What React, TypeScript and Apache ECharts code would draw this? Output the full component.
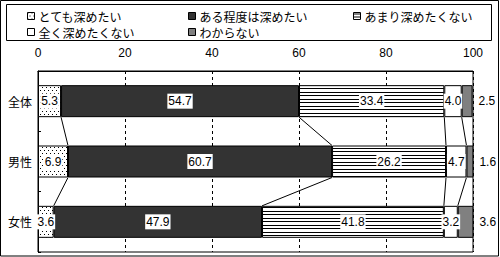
import React, { useEffect, useRef } from "react";
import * as echarts from "echarts";

const categories = ["全体", "男性", "女性"];
const seriesNames = ["とても深めたい", "ある程度は深めたい", "あまり深めたくない", "全く深めたくない", "わからない"];
const veryMuch = [5.3, 6.9, 3.6];
const somewhat = [54.7, 60.7, 47.9];
const notMuch = [33.4, 26.2, 41.8];
const notAtAll = [4.0, 4.7, 3.2];
const unknown = [2.5, 1.6, 3.6];
const xTicks = [0, 20, 40, 60, 80, 100];

const valueSets = [veryMuch, somewhat, notMuch, notAtAll, unknown];

function makeDots() {
  const c = document.createElement("canvas");
  c.width = 4;
  c.height = 6;
  const g = c.getContext("2d")!;
  g.fillStyle = "#fff";
  g.fillRect(0, 0, 4, 6);
  g.fillStyle = "#000";
  g.fillRect(0, 0, 1, 1);
  g.fillRect(2, 3, 1, 1);
  return c;
}
function makeStripes() {
  const c = document.createElement("canvas");
  c.width = 4;
  c.height = 7;
  const g = c.getContext("2d")!;
  g.fillStyle = "#fff";
  g.fillRect(0, 0, 4, 7);
  g.fillStyle = "#000";
  g.fillRect(0, 1, 4, 1);
  g.fillRect(0, 4, 4, 1);
  return c;
}

export default function App() {
  const ref = useRef<HTMLDivElement>(null);
  useEffect(() => {
    document.body.style.margin = "0";
    const chart = echarts.init(ref.current!, null, { renderer: "svg" });
    const dots = makeDots();
    const stripes = makeStripes();
    const fills: any[] = [
      { image: dots, repeat: "repeat", imageWidth: 4, imageHeight: 6 },
      "#333333",
      { image: stripes, repeat: "repeat", imageWidth: 4, imageHeight: 7 },
      "#ffffff",
      "#808080",
    ];
    const barW = 32;
    const numFont = "'Liberation Sans', Arial, sans-serif";
    const cjkFont = "'Noto Sans CJK JP', sans-serif";

    const cums = categories.map((_, ci) => {
      const arr: number[] = [];
      let s = 0;
      for (let k = 0; k < valueSets.length - 1; k++) {
        s += valueSets[k][ci];
        arr.push(s);
      }
      return arr;
    });

    const legendPos = [
      { left: 27, top: 10 },
      { left: 188, top: 10 },
      { left: 353, top: 10 },
      { left: 27, top: 26 },
      { left: 188, top: 26 },
    ];

    const barSeries = seriesNames.map((name, k) => ({
      name,
      type: "bar",
      stack: "total",
      barWidth: barW,
      data: valueSets[k],
      itemStyle: { color: fills[k], borderColor: "#000", borderWidth: 1 },
      label: {
        show: true,
        position: k === 4 ? "right" : "inside",
        distance: 5,
        color: "#000",
        fontFamily: numFont,
        fontSize: 12,
        backgroundColor: k === 4 ? "transparent" : "#fff",
        padding: [2, 1, 1, 1],
        formatter: (p: any) => Number(p.value).toFixed(1),
      },
      emphasis: { disabled: true },
    }));

    const linkData = categories.slice(0, -1).map((_, i) => [0, i]);

    chart.setOption({
      animation: false,
      graphic: [
        {
          type: "rect",
          shape: { x: 0.5, y: 0.5, width: 498, height: 255.5 },
          style: { fill: "none", stroke: "#000", lineWidth: 1 },
          silent: true,
        },
        {
          type: "rect",
          shape: { x: 6.5, y: 4.5, width: 485, height: 36 },
          style: { fill: "none", stroke: "#000", lineWidth: 1 },
          silent: true,
        },
      ],
      legend: seriesNames.map((n, k) => ({
        data: [n],
        left: legendPos[k].left,
        top: legendPos[k].top,
        padding: 0,
        itemWidth: 7,
        itemHeight: 7,
        itemGap: 0,
        icon: "rect",
        selectedMode: false,
        itemStyle: { borderColor: "#000", borderWidth: 1 },
        textStyle: { fontFamily: cjkFont, fontSize: 12, color: "#000", padding: [0, 0, 0, -1] },
      })),
      grid: {
        left: 38,
        right: 27,
        top: 71,
        bottom: 5,
        show: true,
        borderColor: "#000",
        borderWidth: 1,
        backgroundColor: "#fff",
      },
      xAxis: {
        type: "value",
        position: "top",
        min: xTicks[0],
        max: xTicks[xTicks.length - 1],
        interval: 20,
        axisLine: { show: true, lineStyle: { color: "#000" } },
        axisTick: { show: false },
        axisLabel: { color: "#000", fontFamily: numFont, fontSize: 12, margin: 12 },
        splitLine: { show: true, lineStyle: { color: "#000", type: [3, 3], width: 1 } },
      },
      yAxis: {
        type: "category",
        data: categories,
        inverse: true,
        axisLine: { show: true, lineStyle: { color: "#000" } },
        axisTick: { show: true, inside: true, length: 3, lineStyle: { color: "#000" } },
        axisLabel: { color: "#000", fontFamily: cjkFont, fontSize: 12, margin: 6 },
        splitLine: { show: false },
      },
      series: [
        ...barSeries,
        {
          type: "custom",
          name: "links",
          data: linkData,
          encode: { x: 0, y: 1 },
          z: 5,
          silent: true,
          renderItem: (params: any, api: any) => {
            const i = api.value(1);
            const a = cums[i];
            const b = cums[i + 1];
            const children = a.map((v, k) => {
              const p1 = api.coord([v, i]);
              const p2 = api.coord([b[k], i + 1]);
              return {
                type: "line",
                shape: { x1: p1[0], y1: p1[1] + barW / 2, x2: p2[0], y2: p2[1] - barW / 2 },
                style: { stroke: "#000", lineWidth: 1 },
              };
            });
            return { type: "group", children };
          },
        },
      ],
    });
    return () => chart.dispose();
  }, []);
  return <div ref={ref} style={{ width: 500, height: 257 }} />;
}
